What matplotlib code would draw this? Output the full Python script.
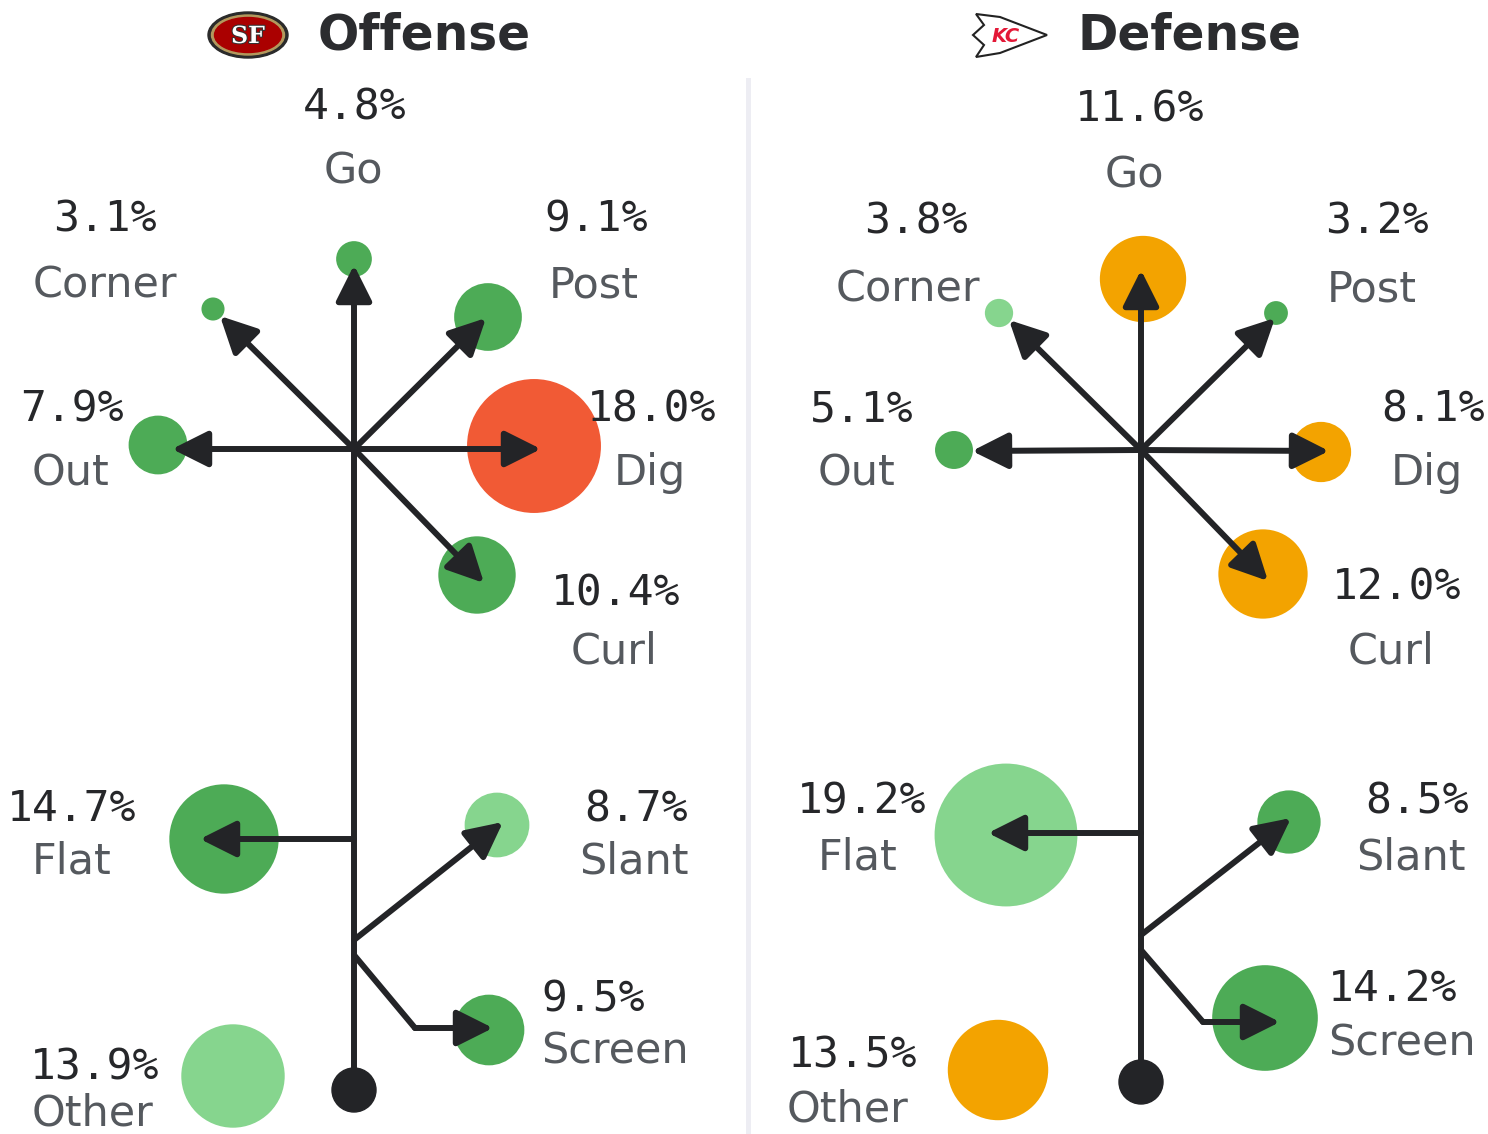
import matplotlib.pyplot as plt
from matplotlib.patches import Circle, Ellipse, Polygon, FancyArrowPatch
import matplotlib.patheffects as pe

# ---- data ----
ROUTES = ["Go", "Corner", "Post", "Out", "Dig", "Curl", "Flat", "Slant", "Screen", "Other"]
OFF_PCT = [4.8, 3.1, 9.1, 7.9, 18.0, 10.4, 14.7, 8.7, 9.5, 13.9]
DEF_PCT = [11.6, 3.8, 3.2, 5.1, 8.1, 12.0, 19.2, 8.5, 14.2, 13.5]
OFF_TIER = ["mid", "mid", "mid", "mid", "top", "mid", "mid", "low", "mid", "low"]
DEF_TIER = ["top", "low", "mid", "mid", "top", "top", "low", "mid", "mid", "top"]

# ---- layout (pixel units) ----
LAYOUT = {
    "Offense": dict(
        stem=354, brk=449, ball=1090, flat=839, slant=940, screen=955, bend=415,
        tip={"Go": (354, 265), "Corner": (220, 316), "Post": (486, 318), "Out": (172, 449),
             "Dig": (541, 449), "Curl": (484, 583), "Flat": (200, 839), "Slant": (503, 822),
             "Screen": (493, 1028)},
        dot={"Go": (354, 259), "Corner": (213, 309), "Post": (488, 317), "Out": (158, 445),
             "Dig": (534, 446), "Curl": (477, 575), "Flat": (224, 839), "Slant": (497, 825),
             "Screen": (489, 1030), "Other": (233, 1076)},
        pct={"Go": (355, 107), "Corner": (105, 219), "Post": (596, 219), "Out": (72, 410),
             "Dig": (652, 410), "Curl": (616, 593), "Flat": (72, 809), "Slant": (636, 809),
             "Screen": (541, 999), "Other": (95, 1067)},
        name={"Go": (353, 171), "Corner": (105, 286), "Post": (594, 286), "Out": (70, 473),
              "Dig": (650, 473), "Curl": (614, 652), "Flat": (72, 861), "Slant": (634, 861),
              "Screen": (541, 1051), "Other": (93, 1113)},
    ),
    "Defense": dict(
        stem=1141, brk=450, ball=1082, flat=833, slant=935, screen=950, bend=1203,
        tip={"Go": (1141, 270), "Corner": (1009, 320), "Post": (1275, 318), "Out": (972, 451),
             "Dig": (1329, 451), "Curl": (1268, 581), "Flat": (988, 833), "Slant": (1291, 818),
             "Screen": (1280, 1022)},
        dot={"Go": (1143, 279), "Corner": (999, 313), "Post": (1276, 313), "Out": (954, 450),
             "Dig": (1321, 452), "Curl": (1263, 574), "Flat": (1006, 835), "Slant": (1289, 822),
             "Screen": (1265, 1018), "Other": (998, 1070)},
        pct={"Go": (1140, 110), "Corner": (916, 221), "Post": (1377, 221), "Out": (862, 409),
             "Dig": (1433, 409), "Curl": (1397, 588), "Flat": (862, 801), "Slant": (1417, 801),
             "Screen": (1328, 989), "Other": (853, 1056)},
        name={"Go": (1134, 175), "Corner": (908, 289), "Post": (1372, 289), "Out": (857, 473),
              "Dig": (1427, 473), "Curl": (1391, 651), "Flat": (858, 858), "Slant": (1411, 858),
              "Screen": (1328, 1044), "Other": (848, 1110)},
    ),
}

GREEN = "#4dab56"
LIGHT = "#86d58e"
ACCENT = {"Offense": "#f15a35", "Defense": "#f3a300"}
INK = "#232427"
R_SCALE = 3.72  # circle radius (px) per percentage point

fig = plt.figure(figsize=(14.88, 11.34), dpi=100)
ax = fig.add_axes([0, 0, 1, 1])
ax.set_xlim(0, 1488)
ax.set_ylim(1134, 0)
ax.axis("off")

# divider
ax.plot([747.5, 747.5], [80, 1134], color="#ededf3", lw=3.6, zorder=0)


def arrow(x0, y0, x1, y1):
    a = FancyArrowPatch((x0, y0), (x1, y1), arrowstyle="-|>,head_length=1.1,head_width=0.55",
                        mutation_scale=20, color=INK, lw=4.3, shrinkA=0, shrinkB=0, zorder=4)
    ax.add_patch(a)


def panel(side, pcts, tiers):
    L = LAYOUT[side]
    sx = L["stem"]
    start = {"Flat": (sx, L["flat"]), "Slant": (sx, L["slant"])}
    for name, p, t in zip(ROUTES, pcts, tiers):
        col = ACCENT[side] if t == "top" else (LIGHT if t == "low" else GREEN)
        ax.add_patch(Circle(L["dot"][name], p * R_SCALE, color=col, lw=0, zorder=2))
        if name == "Screen":
            tx, ty = L["tip"][name]
            ax.plot([sx, L["bend"]], [L["screen"], ty], color=INK, lw=4.3,
                    solid_capstyle="round", zorder=4)
            arrow(L["bend"], ty, tx, ty)
        elif name != "Other":
            x0, y0 = start.get(name, (sx, L["brk"]))
            arrow(x0, y0, *L["tip"][name])
        ha = "left" if name == "Screen" else "center"
        ax.text(*L["pct"][name], f"{p:.1f}%", ha=ha, va="center", fontsize=31,
                family="DejaVu Sans Mono", color="#26272a", zorder=5)
        ax.text(*L["name"][name], name, ha=ha, va="center", fontsize=31,
                family="DejaVu Sans", color="#55595e", zorder=5)
    # stem and ball
    ax.plot([sx, sx], [L["ball"], L["brk"]], color=INK, lw=4.3, zorder=4)
    ax.add_patch(Circle((sx, L["ball"]), 22, color=INK, zorder=5))


panel("Offense", OFF_PCT, OFF_TIER)
panel("Defense", DEF_PCT, DEF_TIER)

# titles
ax.text(424, 36, "Offense", ha="center", va="center", fontsize=35, fontweight="bold",
        color="#2b2c2f")
ax.text(1190, 36, "Defense", ha="center", va="center", fontsize=35, fontweight="bold",
        color="#2b2c2f")

# 49ers logo (rough)
ax.add_patch(Ellipse((248, 35), 80, 46, color="#2a2a2a", zorder=3))
ax.add_patch(Ellipse((248, 35), 73, 40, color="#b3995d", zorder=3))
ax.add_patch(Ellipse((248, 35), 67, 35, color="#aa0000", zorder=3))
ax.text(248, 36, "SF", ha="center", va="center", fontsize=17, fontweight="bold",
        family="DejaVu Serif", color="white", zorder=4,
        path_effects=[pe.withStroke(linewidth=1.5, foreground="#333333")])

# Chiefs logo (rough)
ax.add_patch(Polygon([(976, 14), (1000, 17), (1047, 35), (1000, 53), (976, 57),
                      (984, 45), (973, 35), (984, 25)], closed=True,
                     facecolor="white", edgecolor="#222222", lw=1.5, zorder=3))
ax.text(1006, 36, "KC", ha="center", va="center", fontsize=14, fontweight="bold",
        style="italic", color="#e31837", zorder=4)

fig.savefig("out.png", dpi=100, facecolor="white")
